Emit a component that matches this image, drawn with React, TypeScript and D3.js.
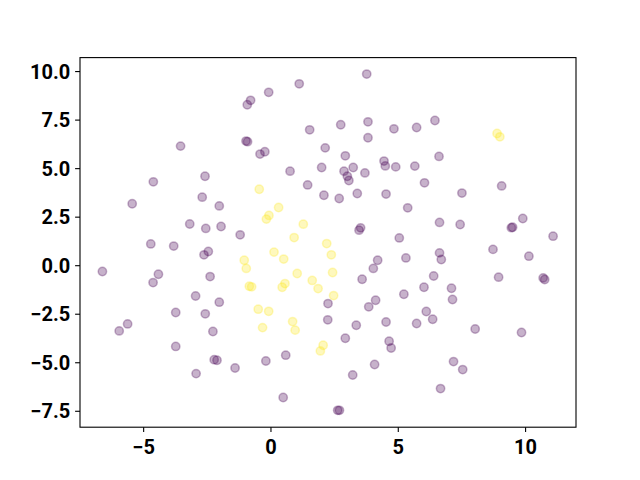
import React from "react";
import * as d3 from "d3";

const purpleX = [
  -3.55, -4.62, -2.59, -0.98, -0.92, -0.93, -0.8, 3.76, 1.11, -0.09, 1.52, 2.74, 3.81, 4.83, 3.81, 2.13,
  2.92, -0.43, -0.24, 0.75, 1.99, 2.87, 3.23, 3.0, 3.06, 3.69, 4.44, 4.49, 4.9, 1.44, 6.44, 5.72, 6.6,
  5.65, 6.03, 9.06, -5.45, -2.7, -2.03, -3.19, -2.56, -1.96, -1.21, -4.72, -3.82, -2.63, -2.46, -6.62,
  -4.42, -4.63, -2.39, -2.96, -2.03, -3.74, -2.58, -5.63, -5.96, -2.28, -3.74, -2.23, -2.12, -1.41,
  -2.94, 2.08, 2.68, 3.39, 4.52, 5.37, 3.52, 3.46, 5.04, 5.3, 4.19, 4.02, 3.58, 5.22, 2.24, 4.11, 3.84,
  2.23, 3.35, 4.52, 2.92, 4.64, 4.72, 0.58, -0.2, 4.07, 3.21, 0.48, 2.62, 2.69, 7.5, 6.62, 7.43, 9.89,
  9.49, 9.44, 11.08, 8.72, 6.62, 6.69, 10.13, 6.39, 8.94, 10.69, 10.75, 6.01, 7.09, 7.13, 6.1, 6.35,
  5.72, 8.02, 9.84, 7.17, 7.53, 6.66,
];
const purpleY = [
  6.16, 4.32, 4.61, 6.42, 6.39, 8.29, 8.52, 9.87, 9.37, 8.93, 7.0, 7.26, 7.41, 7.05, 6.59, 6.07, 5.66,
  5.75, 5.87, 4.87, 5.06, 4.87, 5.06, 4.61, 4.39, 4.78, 5.39, 5.14, 5.09, 4.16, 7.48, 7.12, 5.63, 5.13,
  4.27, 4.11, 3.19, 3.53, 3.08, 2.15, 1.92, 2.02, 1.59, 1.12, 1.01, 0.56, 0.73, -0.3, -0.44, -0.87,
  -0.56, -1.56, -1.88, -2.41, -2.48, -3.0, -3.36, -3.39, -4.16, -4.84, -4.87, -5.27, -5.56, 3.63, 3.46,
  3.72, 3.69, 2.98, 1.95, 1.83, 1.43, 0.4, 0.28, -0.14, -0.7, -1.47, -1.95, -1.78, -2.12, -2.79, -3.07,
  -2.9, -3.74, -3.89, -4.24, -4.61, -4.91, -5.09, -5.63, -6.79, -7.45, -7.45, 3.74, 2.23, 2.12, 2.43,
  1.98, 1.96, 1.52, 0.84, 0.66, 0.32, 0.49, -0.53, -0.59, -0.63, -0.71, -1.11, -1.16, -1.74, -2.36,
  -2.76, -2.98, -3.26, -3.44, -4.94, -5.35, -6.33,
];
const yellowX = [
  -0.46, 0.3, -0.08, -0.18, 1.27, 0.91, 2.19, -1.05, -0.97, 0.12, 0.5, 2.37, -0.85, -0.76, 1.03, 2.42,
  1.62, 1.85, 0.55, 0.44, 2.46, -0.5, -0.09, -0.33, 0.85, 0.95, 2.05, 1.94, 8.88, 8.99,
];
const yellowY = [
  3.94, 3.0, 2.59, 2.4, 2.14, 1.45, 1.14, 0.28, -0.14, 0.7, 0.34, 0.56, -1.06, -1.09, -0.4, -0.35, -0.76,
  -1.18, -0.92, -1.11, -1.54, -2.24, -2.35, -3.19, -2.88, -3.32, -4.1, -4.39, 6.81, 6.64,
];
const xTicks = [-5, 0, 5, 10];
const yTicks = [-7.5, -5, -2.5, 0, 2.5, 5, 7.5, 10];

const W = 640;
const H = 480;
const left = 80;
const right = 576;
const top = 57.6;
const bottom = 427.2;

export default function App() {
  const x = d3.scaleLinear().domain([-7.5, 11.98]).range([left, right]);
  const y = d3.scaleLinear().domain([-8.32, 10.72]).range([bottom, top]);
  const fmt = d3.format(".1f");
  const minus = (s: string) => s.replace("-", "\u2212");
  const pts = [
    ...purpleX.map((v, i) => ({ x: v, y: purpleY[i], c: "#440154" })),
    ...yellowX.map((v, i) => ({ x: v, y: yellowY[i], c: "#fde725" })),
  ];
  const font = "Roboto, 'Liberation Sans', sans-serif";
  return (
    <svg width={W} height={H} style={{ position: "absolute", left: 0, top: 0 }}>
      <rect width={W} height={H} fill="#fff" />
      {pts.map((p, i) => (
        <circle
          key={i}
          cx={x(p.x)}
          cy={y(p.y)}
          r={4.17}
          fill={p.c}
          fillOpacity={0.3}
          stroke={p.c}
          strokeOpacity={0.3}
          strokeWidth={1.5}
        />
      ))}
      <rect x={left} y={top} width={right - left} height={bottom - top} fill="none" stroke="#000" strokeWidth={1.1} />
      {xTicks.map((t) => (
        <g key={t}>
          <line x1={x(t)} x2={x(t)} y1={bottom} y2={bottom + 4.9} stroke="#000" strokeWidth={1.1} />
          <text x={x(t)} y={bottom + 26.5} textAnchor="middle" fontFamily={font} fontWeight="bold" fontSize={20}>
            {minus(String(t))}
          </text>
        </g>
      ))}
      {yTicks.map((t) => (
        <g key={t}>
          <line x1={left - 4.9} x2={left} y1={y(t)} y2={y(t)} stroke="#000" strokeWidth={1.1} />
          <text x={left - 9.8} y={y(t)} dy="0.36em" textAnchor="end" fontFamily={font} fontWeight="bold" fontSize={20}>
            {minus(fmt(t))}
          </text>
        </g>
      ))}
    </svg>
  );
}
